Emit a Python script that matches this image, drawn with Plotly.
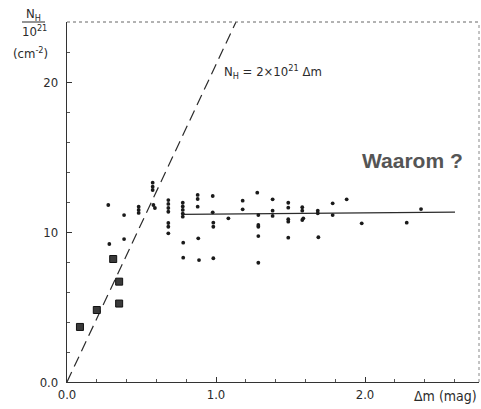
import plotly.graph_objects as go

# ---- data ----
square_dm = [0.087, 0.20, 0.35, 0.35, 0.31]
square_nh = [3.67, 4.8, 5.23, 6.69, 8.2]

dot_dm = [0.277, 0.284, 0.383, 0.383, 0.481, 0.481, 0.481, 0.575, 0.575, 0.575,
          0.58, 0.59, 0.68, 0.68, 0.68, 0.68, 0.68, 0.68, 0.68,
          0.777, 0.777, 0.777, 0.777, 0.777, 0.78, 0.78,
          0.877, 0.877, 0.877, 0.881, 0.886,
          0.978, 0.978, 0.982, 0.982, 0.982, 1.083, 1.179, 1.179,
          1.277, 1.284, 1.284, 1.284, 1.284, 1.284,
          1.38, 1.38, 1.38, 1.485, 1.485, 1.485, 1.485, 1.485,
          1.579, 1.579, 1.586, 1.579, 1.683, 1.683, 1.687,
          1.783, 1.783, 1.877, 1.978, 2.28, 2.376]
dot_nh = [11.8, 9.2, 11.13, 9.53, 11.69, 11.47, 11.27, 13.29, 13.02, 12.8,
          11.8, 11.6, 12.13, 11.87, 11.6, 11.35, 10.6, 10.35, 9.91,
          11.95, 11.7, 11.47, 11.23, 11.02, 9.29, 8.29,
          12.47, 12.2, 11.69, 9.58, 8.13,
          12.4, 11.31, 10.62, 10.35, 8.25, 10.91, 12.09, 11.51,
          12.62, 11.13, 10.47, 10.35, 9.73, 7.95,
          12.18, 11.42, 11.07, 11.95, 11.62, 10.85, 10.69, 9.62,
          11.65, 11.42, 10.91, 10.8, 11.42, 11.25, 9.65,
          11.91, 11.13, 12.18, 10.58, 10.62, 11.53]

fit_dm = [0.77, 2.604]
fit_nh = [11.18, 11.33]

dash_dm = [0.0, 1.134]
dash_nh = [0.0, 24.0]

x_tickvals = [0, 1, 2]
x_ticktext = ["0.0", "1.0", "2.0"]
y_tickvals = [0, 10, 20]
y_ticktext = ["0.0", "10", "20"]

FONT = "Liberation Sans Narrow, DejaVu Sans Condensed, Arial Narrow, sans-serif"
INK = "#2b2b2b"

W, H = 481, 409
L, R, T, B = 67, 2, 22, 27
PW, PH = W - L - R, H - T - B


def px(xp):
    return (xp - L) / PW


def py(yp):
    return (H - B - yp) / PH


fig = go.Figure()

fig.add_trace(go.Scatter(x=dash_dm, y=dash_nh, mode="lines",
                         line=dict(color=INK, width=1.2, dash="11px,6px"),
                         hoverinfo="skip", showlegend=False))
fig.add_trace(go.Scatter(x=fit_dm, y=fit_nh, mode="lines",
                         line=dict(color=INK, width=1.2),
                         showlegend=False))
fig.add_trace(go.Scatter(x=dot_dm, y=dot_nh, mode="markers",
                         marker=dict(symbol="circle", size=3.8, color="#1a1a1a"),
                         showlegend=False))
fig.add_trace(go.Scatter(x=square_dm, y=square_nh, mode="markers",
                         marker=dict(symbol="square", size=7, color="#3a3a3a",
                                     line=dict(color="#111", width=1)),
                         showlegend=False))

fig.update_xaxes(range=[0, PW / 149.0], tickvals=x_tickvals, ticktext=x_ticktext,
                 showgrid=False, zeroline=False, showline=True, linecolor="#333",
                 linewidth=1.3, ticks="inside", ticklen=5, tickcolor="#333",
                 minor=dict(dtick=0.2, ticks="inside", ticklen=3, tickcolor="#555", showgrid=False),
                 tickfont=dict(family=FONT, size=13, color=INK))
fig.update_yaxes(range=[0, PH / 15.0], tickvals=y_tickvals, ticktext=y_ticktext,
                 showgrid=False, zeroline=False, showline=True, linecolor="#333",
                 linewidth=1.3, ticks="inside", ticklen=5, tickcolor="#333",
                 ticklabelstandoff=5,
                 minor=dict(dtick=2, ticks="inside", ticklen=3, tickcolor="#555", showgrid=False),
                 tickfont=dict(family=FONT, size=13, color=INK))

# frame top/right (dotted in the scan)
fig.add_shape(type="line", xref="paper", yref="paper", x0=0, x1=1, y0=1, y1=1,
              line=dict(color="#666", width=1, dash="dot"))
fig.add_shape(type="line", xref="paper", yref="paper", x0=1, x1=1, y0=0, y1=1,
              line=dict(color="#888", width=1, dash="dot"))
# fraction bar of y title
fig.add_shape(type="line", xref="paper", yref="paper", x0=px(22), x1=px(45),
              y0=py(22), y1=py(22), line=dict(color=INK, width=1))

ann = [
    dict(text="N<sub>H</sub>", x=px(33), y=py(14), size=13),
    dict(text="10<sup>21</sup>", x=px(34), y=py(31), size=13),
    dict(text="(cm<sup>-2</sup>)", x=px(30), y=py(53), size=13),
    dict(text="Δm (mag)", x=px(445), y=py(396), size=14),
]
for a in ann:
    fig.add_annotation(text=a["text"], x=a["x"], y=a["y"], xref="paper", yref="paper",
                       showarrow=False, xanchor="center", yanchor="middle",
                       font=dict(family=FONT, size=a["size"], color=INK))

fig.add_annotation(text="N<sub>H</sub> = 2×10<sup>21</sup> Δm", x=px(222), y=py(72),
                   xref="paper", yref="paper", showarrow=False,
                   xanchor="left", yanchor="middle",
                   font=dict(family=FONT, size=13, color=INK))
fig.add_annotation(text="<b>Waarom ?</b>", x=px(412), y=py(160),
                   xref="paper", yref="paper", showarrow=False,
                   xanchor="center", yanchor="middle",
                   font=dict(family="Liberation Sans, Arial, sans-serif", size=21, color="#555"))

fig.update_layout(width=W, height=H, margin=dict(l=L, r=R, t=T, b=B),
                  paper_bgcolor="white", plot_bgcolor="white", showlegend=False)

fig.write_html("out.html", config={"displayModeBar": False},
               post_script="document.body.style.margin='0px';document.body.style.overflow='hidden';")
